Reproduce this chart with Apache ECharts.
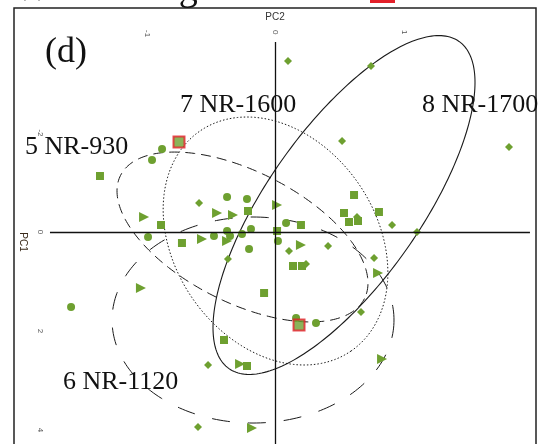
<!DOCTYPE html>
<html>
<head>
<meta charset="utf-8">
<script src="https://cdn.jsdelivr.net/npm/echarts@6/dist/echarts.min.js"></script>
<style>
  html, body { margin: 0; padding: 0; background: #ffffff; }
  #chart { width: 545px; height: 444px; }
</style>
</head>
<body>
<div id="chart"></div>
<script>
// PCA scores: [PC2, PC1] for each sample, grouped by site
var groupNames = ['5 NR-930', '6 NR-1120', '7 NR-1600', '8 NR-1700'];

var scoresNR930 = [
  [-0.883, -1.677], [-0.961, -1.455], [-0.377, -0.707], [-0.222, -0.667],
  [-0.992, 0.101], [-0.479, 0.081], [-0.377, -0.020], [-0.354, 0.081],
  [-0.261, 0.040], [-0.191, -0.061], [-0.206, 0.343], [0.019, 0.182],
  [0.082, -0.182], [0.160, 1.737], [0.315, 1.838], [-1.591, 1.515]
];
var scoresNR1120 = [
  [-1.023, -0.303], [-0.455, -0.384], [-0.331, -0.343], [0.012, -0.545],
  [-0.572, 0.141], [-0.377, 0.182], [0.198, 0.263], [-1.047, 1.131],
  [0.798, 0.828], [0.829, 2.566], [-0.276, 2.667], [-0.183, 3.960]
];
var scoresNR1600 = [
  [-1.366, -1.131], [-0.214, -0.424], [-0.891, -0.141], [-0.728, 0.222],
  [0.012, -0.020], [0.611, -0.747], [0.533, -0.384], [0.805, -0.404],
  [0.572, -0.202], [0.642, -0.222], [0.198, -0.141], [0.136, 0.687],
  [0.206, 0.687], [-0.089, 1.232], [-0.401, 2.182], [-0.222, 2.707]
];
// two NR-1600 samples flagged with a red outline
var flaggedNR1600 = [[-0.751, -1.818], [0.183, 1.879]];
var scoresNR1700 = [
  [0.097, -3.455], [0.743, -3.354], [0.518, -1.838], [1.817, -1.717],
  [-0.595, -0.586], [0.634, -0.303], [0.907, -0.141], [1.101, 0.000],
  [0.105, 0.384], [0.409, 0.283], [0.237, 0.646], [0.767, 0.525],
  [0.665, 1.616], [-0.370, 0.545], [-0.525, 2.687], [-0.603, 3.939]
];

// group ellipses: centre and two conjugate semi-axes, in score units
var ellipseCenters = [[-0.257, 0.101], [-0.175, 1.778], [0.000, 0.182], [0.533, -0.545]];
var ellipseAxisA   = [[0.949, 1.244], [1.097, 0.000], [0.588, 2.222], [0.895, -3.305]];
var ellipseAxisB   = [[-0.230, 1.182], [0.000, 2.081], [-0.647, 1.156], [0.488, 0.889]];

// tick labels
var pc2Ticks = [-1, 0, 1];
var pc1Ticks = [-2, 0, 2, 4];

var GREEN = '#6ea030';
var INK = '#1a1a1a';

var chart = echarts.init(document.getElementById('chart'), null, { renderer: 'canvas' });

function ellipseSeries(idx, dash, width) {
  var c = ellipseCenters[idx], a = ellipseAxisA[idx], b = ellipseAxisB[idx];
  return {
    type: 'custom',
    name: groupNames[idx] + ' ellipse',
    coordinateSystem: 'cartesian2d',
    data: [c],
    silent: true,
    clip: false,
    z: 3,
    renderItem: function (params, api) {
      var pts = [];
      var n = 240;
      for (var i = 0; i <= n; i++) {
        var t = i / n * Math.PI * 2;
        pts.push(api.coord([
          c[0] + Math.cos(t) * a[0] + Math.sin(t) * b[0],
          c[1] + Math.cos(t) * a[1] + Math.sin(t) * b[1]
        ]));
      }
      return {
        type: 'polyline',
        shape: { points: pts },
        style: { stroke: INK, fill: null, lineWidth: width, lineDash: dash }
      };
    }
  };
}

function scatter(name, data, symbol, size, extra) {
  var s = {
    type: 'scatter',
    name: name,
    data: data,
    symbol: symbol,
    symbolSize: size,
    itemStyle: { color: GREEN, opacity: 1 },
    z: 4,
    silent: true
  };
  if (extra) { for (var k in extra) s[k] = extra[k]; }
  return s;
}

var labelFont = '26px "Liberation Serif", "Times New Roman", serif';

var option = {
  backgroundColor: '#ffffff',
  animation: false,
  grid: {
    left: 14, top: 8, width: 522, height: 468,
    outerBoundsMode: 'none',
    containLabel: false,
    show: true, borderColor: '#222', borderWidth: 1.5,
    backgroundColor: 'transparent'
  },
  xAxis: {
    type: 'value',
    position: 'top',
    min: -2.035, max: 2.027,
    splitLine: { show: false },
    axisLine: { show: false },
    axisTick: { show: false },
    axisLabel: {
      customValues: pc2Ticks,
      inside: true, rotate: -90, margin: 22,
      fontSize: 8, color: '#555', fontFamily: 'Liberation Sans'
    },
    name: 'PC2',
    nameLocation: 'middle',
    nameGap: -16,
    nameTextStyle: { fontSize: 10, color: '#333', fontFamily: 'Liberation Sans' }
  },
  yAxis: {
    type: 'value',
    inverse: true,
    position: 'left',
    min: -4.525, max: 4.929,
    splitLine: { show: false },
    axisLine: { show: false },
    axisTick: { show: false },
    axisLabel: {
      customValues: pc1Ticks,
      inside: true, rotate: -90, margin: 22,
      fontSize: 8, color: '#555', fontFamily: 'Liberation Sans'
    },
    name: 'PC1',
    nameLocation: 'middle',
    nameRotate: -90,
    nameGap: -17,
    nameTextStyle: { fontSize: 10, color: '#3a2a1a', fontFamily: 'Liberation Sans' }
  },
  graphic: [
    { type: 'text', silent: true, x: 14, y: 9,
      style: { text: 'Wetland region', font: '38px "Liberation Serif", serif', fill: '#111',
               textAlign: 'left', verticalAlign: 'bottom' } },
    { type: 'rect', silent: true, shape: { x: 370, y: -10, width: 25, height: 13 },
      style: { fill: '#e3202a' } },
    { type: 'text', silent: true,
      style: { text: '(d)', x: 45, y: 53, font: '36px "Liberation Serif", serif', fill: '#111',
               textAlign: 'left', verticalAlign: 'middle' } },
    { type: 'text', silent: true,
      style: { text: groupNames[0], x: 25, y: 147, font: labelFont, fill: '#111', textAlign: 'left', verticalAlign: 'middle' } },
    { type: 'text', silent: true,
      style: { text: groupNames[1], x: 63, y: 382, font: labelFont, fill: '#111', textAlign: 'left', verticalAlign: 'middle' } },
    { type: 'text', silent: true,
      style: { text: groupNames[2], x: 180, y: 105, font: labelFont, fill: '#111', textAlign: 'left', verticalAlign: 'middle' } },
    { type: 'text', silent: true,
      style: { text: groupNames[3], x: 422, y: 105, font: labelFont, fill: '#111', textAlign: 'left', verticalAlign: 'middle' } }
  ],
  series: [
    {
      // zero reference lines of the two components
      type: 'line',
      data: [],
      silent: true,
      markLine: {
        silent: true,
        symbol: ['none', 'none'],
        label: { show: false },
        lineStyle: { color: '#111', width: 1.3, type: 'solid' },
        data: [
          [{ coord: [-1.755, 0] }, { coord: [1.98, 0] }],
          [{ coord: [0, -3.84] }, { coord: [0, 4.929] }]
        ]
      }
    },
    ellipseSeries(0, [10, 6], 1),
    ellipseSeries(1, [18, 18], 1),
    ellipseSeries(2, [1.5, 2], 1),
    ellipseSeries(3, null, 1.1),
    scatter(groupNames[0], scoresNR930, 'circle', 8),
    scatter(groupNames[1], scoresNR1120, 'triangle', 10, { symbolRotate: -90 }),
    scatter(groupNames[2], scoresNR1600, 'rect', 8),
    scatter(groupNames[2] + ' flagged', flaggedNR1600, 'rect', 11,
      { itemStyle: { color: GREEN, borderColor: '#e3202a', borderWidth: 2 } }),
    scatter(groupNames[3], scoresNR1700, 'diamond', 8)
  ]
};

chart.setOption(option);
</script>
</body>
</html>
